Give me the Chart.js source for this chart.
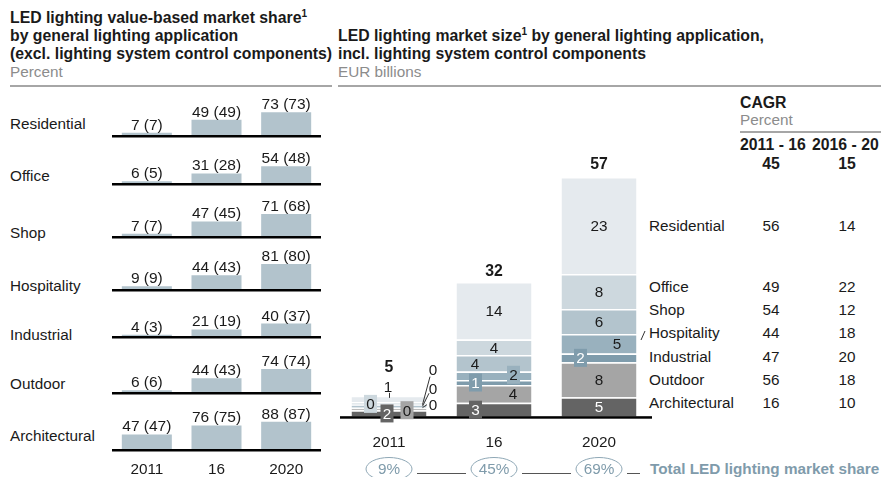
<!DOCTYPE html>
<html>
<head>
<meta charset="utf-8">
<script src="https://cdn.jsdelivr.net/npm/chart.js@4.4.0/dist/chart.umd.min.js"></script>
<style>
  body { margin: 0; width: 881px; height: 477px; overflow: hidden; background: #fff; position: relative;
         font-family: "Liberation Sans", Arial, sans-serif; color: #1a1a1a; }
  .t { position: absolute; white-space: nowrap; line-height: 20px; font-size: 15.3px; }
  .b { font-weight: bold; font-size: 15.8px; }
  .g { color: #8c8c8c; }
  .blue { color: #7f9bab; font-size: 15.3px; }
  .rule { position: absolute; background: #a6a6a6; }
  sup { font-size: 10px; line-height: 0; vertical-align: 6px; }
  canvas { position: absolute; }
</style>
</head>
<body>
<script>
const years = ["2011", "16", "2020"];
const applications = ["Residential", "Office", "Shop", "Hospitality", "Industrial", "Outdoor", "Architectural"];

// LED value-based market share, percent; bracket = excl. control components
const share2011 = [7, 6, 7, 9, 4, 6, 47];
const share2016 = [49, 31, 47, 44, 21, 44, 76];
const share2020 = [73, 54, 71, 81, 40, 74, 88];
const shareBr2011 = [7, 5, 7, 9, 3, 6, 47];
const shareBr2016 = [49, 28, 45, 43, 19, 43, 75];
const shareBr2020 = [73, 48, 68, 80, 37, 74, 87];

// LED market size, EUR billions
const size2011 = [1.45, 0.45, 0.4, 0.35, 0.3, 0.45, 1.55];
const size2016 = [13.6, 3.7, 3.9, 2.0, 1.2, 4.2, 3.3];
const size2020 = [23, 8.3, 5.9, 4.6, 2.1, 8.3, 4.6];

// CAGR, percent
const cagr1116 = [56, 49, 54, 44, 47, 56, 16];
const cagr1620 = [14, 22, 12, 18, 20, 18, 10];
const cagrTotal = [45, 15];

// total LED lighting market share, percent
const ledShare = [9, 45, 69];

// ---- layout / styles ----
const FONT = '"Liberation Sans", Arial, sans-serif';
const TXT = "#1a1a1a";
const appColors = ["#e5eaee", "#cdd8de", "#b3c4cd", "#99b1be", "#7f9cac", "#a5a5a5", "#646464"];
const shareColor = "#b2c3cc";
const rowBase = [136, 184, 237, 290, 337, 393, 450];
const rowLabelBase = [129.5, 181.5, 238.5, 291.5, 340.5, 389.5, 441.5];
const legendBase = [231.5, 292.5, 315.5, 338.5, 362.5, 385.5, 408.5];

// label placement per year, per application (offsets from segment middle)
const segLabels = [
  [ { dx: -1, dy: -12, tick: true }, { dx: -18.5, dy: 1, box: true }, { dx: 44, dy: -35, lead: [-3, 7] },
    { dx: 44, dy: -18, lead: [-4, 5] }, { dx: 44, dy: -3, lead: [-6, 0] }, { dx: 18, dy: 1, box: true },
    { dx: -2, dy: 0, box: true, white: true } ],
  [ {}, {}, { dx: -19 }, { dx: 19.5, dy: -1, box: true }, { dx: -18.5, box: true, white: true },
    { dx: 19 }, { dx: -18.5, box: true, white: true } ],
  [ {}, {}, {}, { dx: 18 }, { dx: -18.5, box: true, white: true }, {}, { white: true } ],
];
const totalDy = [-29, -11, -13];

Chart.defaults.font.family = FONT;

function txt(x, base, html, cls, center) {
  const d = document.createElement("div");
  d.className = "t " + (cls || "");
  d.innerHTML = html;
  d.style.left = x + "px";
  d.style.top = (base - 15.4) + "px";
  if (center) d.style.transform = "translateX(-50%)";
  document.body.appendChild(d);
}
function rule(x, y, w, h, color) {
  const d = document.createElement("div");
  d.className = "rule";
  Object.assign(d.style, { left: x + "px", top: y + "px", width: w + "px", height: h + "px" });
  if (color) d.style.background = color;
  document.body.appendChild(d);
}

// titles
txt(10, 23.3, "LED lighting value-based market share<sup>1</sup>", "b");
txt(10, 41, "by general lighting application", "b");
txt(10, 59.3, "(excl. lighting system control components)", "b");
txt(10, 77.7, "Percent", "g");
rule(10, 84.5, 322, 2);
txt(338, 41, "LED lighting market size<sup>1</sup> by general lighting application,", "b");
txt(338, 59.3, "incl. lighting system control components", "b");
txt(338, 77.7, "EUR billions", "g");
rule(338, 84.5, 543, 2);

// CAGR table
txt(740, 108.3, "CAGR", "b");
txt(740, 125, "Percent", "g");
rule(740, 131, 141, 1.5);
txt(740, 150.7, "2011 - 16", "b");
txt(812, 150.7, "2016 - 20", "b");
txt(771, 169.3, String(cagrTotal[0]), "b", true);
txt(847, 169.3, String(cagrTotal[1]), "b", true);
applications.forEach((a, i) => {
  txt(10, rowLabelBase[i], a);
  txt(649, legendBase[i], a);
  txt(771, legendBase[i], String(cagr1116[i]), "", true);
  txt(847, legendBase[i], String(cagr1620[i]), "", true);
});
txt(650, 474.5, "Total LED lighting market share", "b blue");

function makeCanvas(x, y, w, h) {
  const c = document.createElement("canvas");
  c.width = w; c.height = h;
  c.style.left = x + "px"; c.style.top = y + "px";
  document.body.appendChild(c);
  return c;
}

// ---- left: one small bar chart per application ----
const shareLabels = {
  id: "shareLabels",
  afterDatasetsDraw(chart, args, opts) {
    const ctx = chart.ctx, a = chart.chartArea;
    ctx.save();
    ctx.fillStyle = "#000";
    ctx.fillRect(0, a.bottom, chart.width, 2.5);
    ctx.font = "15.5px " + FONT;
    ctx.textAlign = "center";
    ctx.textBaseline = "alphabetic";
    ctx.fillStyle = TXT;
    const ds = chart.data.datasets[0];
    chart.getDatasetMeta(0).data.forEach((bar, j) => {
      ctx.fillText(ds.data[j] + " (" + opts.brackets[j] + ")", bar.x, bar.y - 3);
    });
    ctx.restore();
  },
};

applications.forEach((a, i) => {
  const last = i === applications.length - 1;
  const h = last ? 84 : 54;
  const cv = makeCanvas(112, rowBase[i] - 50, 209, h);
  new Chart(cv, {
    type: "bar",
    data: {
      labels: years,
      datasets: [{
        data: [share2011[i], share2016[i], share2020[i]],
        backgroundColor: shareColor,
        barPercentage: 0.718,
        categoryPercentage: 1,
      }],
    },
    options: {
      responsive: false,
      maintainAspectRatio: false,
      animation: false,
      devicePixelRatio: 1,
      layout: { padding: { left: 0, right: 0, top: 0, bottom: last ? 0 : 5 } },
      plugins: {
        legend: { display: false },
        tooltip: { enabled: false },
        shareLabels: { brackets: [shareBr2011[i], shareBr2016[i], shareBr2020[i]] },
      },
      scales: {
        x: {
          display: last,
          grid: { display: false, drawTicks: false, tickLength: 0 },
          border: { display: false },
          ticks: { padding: 12, color: TXT, font: { size: 15.3 } },
          afterFit: (s) => { s.height = last ? 35 : 0; },
        },
        y: { display: false, min: 0, max: 158 },
      },
    },
    plugins: [shareLabels],
  });
});

// ---- right: stacked market size chart ----
const sizeLabels = {
  id: "sizeLabels",
  afterDatasetsDraw(chart) {
    const ctx = chart.ctx, a = chart.chartArea;
    ctx.save();
    ctx.fillStyle = "#000";
    ctx.fillRect(10, a.bottom - 0.5, 312, 2.5);
    ctx.font = "15.3px " + FONT;
    ctx.textAlign = "center";
    ctx.textBaseline = "alphabetic";
    chart.data.datasets.forEach((ds, di) => {
      chart.getDatasetMeta(di).data.forEach((bar, yi) => {
        const spec = segLabels[yi][ds.app];
        const cy = (bar.y + bar.base) / 2;
        const lx = bar.x + (spec.dx || 0), ly = cy + (spec.dy || 0);
        if (spec.box) {
          ctx.fillStyle = ds.backgroundColor;
          ctx.fillRect(lx - 6.5, ly - 9, 13, 18);
        }
        ctx.strokeStyle = "#333";
        ctx.lineWidth = 1;
        if (spec.lead) {
          ctx.beginPath();
          ctx.moveTo(lx + spec.lead[0], ly + spec.lead[1]);
          ctx.lineTo(bar.x + bar.width / 2 - 4, cy);
          ctx.stroke();
        }
        if (spec.tick) {
          ctx.beginPath();
          ctx.moveTo(bar.x + 0.5, ly + 6);
          ctx.lineTo(bar.x + 0.5, ly + 11);
          ctx.stroke();
        }
        ctx.fillStyle = spec.white ? "#fff" : TXT;
        ctx.fillText(String(Math.round(ds.data[yi])), lx, ly + 5.4);
      });
    });
    // totals
    const topMeta = chart.getDatasetMeta(chart.data.datasets.length - 1);
    ctx.font = "bold 15.8px " + FONT;
    ctx.fillStyle = TXT;
    topMeta.data.forEach((bar, yi) => {
      let sum = 0;
      chart.data.datasets.forEach((ds) => { sum += ds.data[yi]; });
      ctx.fillText(String(Math.round(sum)), bar.x, bar.y + totalDy[yi] + 5.4);
    });
    // slash before "Hospitality"
    ctx.beginPath();
    ctx.moveTo(311, 200);
    ctx.lineTo(315, 191);
    ctx.stroke();
    ctx.restore();
  },
  afterDraw(chart) {
    const ctx = chart.ctx, xs = chart.scales.x;
    const cy = 329, rx = 23, ry = 11.5;
    ctx.save();
    ctx.font = "15.3px " + FONT;
    ctx.textAlign = "center";
    ledShare.forEach((v, i) => {
      const cx = xs.getPixelForValue(i);
      ctx.strokeStyle = "#8ea7b5";
      ctx.lineWidth = 1;
      ctx.beginPath();
      ctx.ellipse(cx, cy, rx, ry, 0, 0, Math.PI * 2);
      ctx.stroke();
      ctx.fillStyle = "#7f9bab";
      ctx.fillText(v + "%", cx, cy + 5.4);
      const x1 = cx + rx + 5;
      const x2 = i < ledShare.length - 1 ? xs.getPixelForValue(i + 1) - rx - 5 : 310;
      ctx.strokeStyle = "#555";
      ctx.beginPath();
      ctx.moveTo(x1, cy + 4.5);
      ctx.lineTo(x2, cy + 4.5);
      ctx.stroke();
    });
    ctx.restore();
  },
};

const stackOrder = [6, 5, 4, 3, 2, 1, 0];
const rightCv = makeCanvas(330, 140, 340, 337);
new Chart(rightCv, {
  type: "bar",
  data: {
    labels: years,
    datasets: stackOrder.map((k) => ({
      app: k,
      label: applications[k],
      data: [size2011[k], size2016[k], size2020[k]],
      backgroundColor: appColors[k],
      borderColor: "#fff",
      borderWidth: { top: 1.5, bottom: 0, left: 0, right: 0 },
      barPercentage: 0.714,
      categoryPercentage: 1,
    })),
  },
  options: {
    responsive: false,
    maintainAspectRatio: false,
    animation: false,
    devicePixelRatio: 1,
    layout: { padding: { left: 6.5, right: 18.5, top: 10, bottom: 0 } },
    plugins: { legend: { display: false }, tooltip: { enabled: false } },
    scales: {
      x: {
        stacked: true,
        grid: { display: false, drawTicks: false, tickLength: 0 },
        border: { display: false },
        ticks: { padding: 17, color: TXT, font: { size: 15.3 } },
        afterFit: (s) => { s.height = 60.3; },
      },
      y: { stacked: true, display: false, min: 0, max: 63.2 },
    },
  },
  plugins: [sizeLabels],
});
</script>
</body>
</html>
